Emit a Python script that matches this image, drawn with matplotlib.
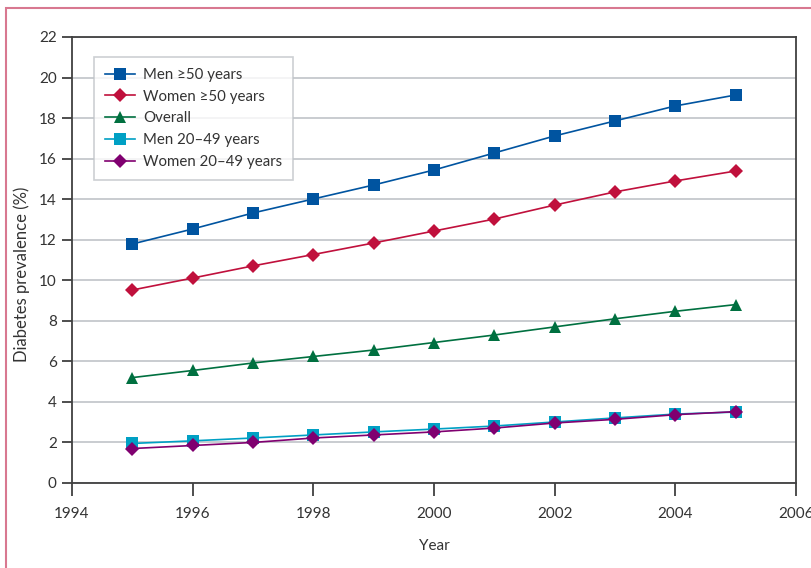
import matplotlib
matplotlib.use("Agg")
import matplotlib.pyplot as plt
from matplotlib.patches import Rectangle

plt.rcParams['font.family'] = ['Lato', 'DejaVu Sans']

years = [1995, 1996, 1997, 1998, 1999, 2000, 2001, 2002, 2003, 2004, 2005]
men_50 = [11.79, 12.53, 13.32, 14.01, 14.70, 15.44, 16.28, 17.12, 17.86, 18.60, 19.14]
women_50 = [9.52, 10.11, 10.71, 11.27, 11.84, 12.43, 13.02, 13.71, 14.36, 14.90, 15.39]
overall = [5.2, 5.55, 5.92, 6.24, 6.56, 6.93, 7.30, 7.70, 8.10, 8.47, 8.80]
men_20_49 = [1.95, 2.08, 2.22, 2.37, 2.52, 2.66, 2.81, 3.01, 3.21, 3.40, 3.50]
women_20_49 = [1.70, 1.85, 2.00, 2.22, 2.37, 2.52, 2.71, 2.96, 3.14, 3.37, 3.52]

labels = ["Men \u226550 years", "Women \u226550 years", "Overall",
          "Men 20\u201349 years", "Women 20\u201349 years"]
series = [men_50, women_50, overall, men_20_49, women_20_49]
colors = ["#0054a0", "#c0103c", "#007040", "#00a0c4", "#800070"]
markers = ["s", "D", "^", "s", "D"]
msizes = [8.5, 7.5, 8.5, 8.5, 7.5]

fig = plt.figure(figsize=(8.11, 5.68), dpi=100)
ax = fig.add_axes([72/811, 1 - 483/568, (796-72)/811, (483-37)/568])

for y, lab, c, m, ms in zip(series, labels, colors, markers, msizes):
    ax.plot(years, y, color=c, marker=m, markersize=ms, linewidth=1.2,
            label=lab, markeredgewidth=0)

ax.set_xlim(1994, 2006)
ax.set_ylim(0, 22)
ax.set_xticks(range(1994, 2007, 2))
ax.set_yticks(range(0, 23, 2))
ax.yaxis.grid(True, color="#c0c4c8", linewidth=1.2)
ax.set_axisbelow(True)
for s in ax.spines.values():
    s.set_color("#404040")
    s.set_linewidth(1.3)
ax.tick_params(axis='x', direction='out', length=9, width=1.3, color="#404040",
               labelsize=11, labelcolor="#333333", pad=8)
ax.tick_params(axis='y', direction='out', length=7, width=1.3, color="#404040",
               labelsize=11, labelcolor="#333333", pad=4)
ax.set_xlabel("Year", fontsize=11, color="#333333", labelpad=13)
ax.set_ylabel("Diabetes prevalence (%)", fontsize=12, color="#333333")
ax.yaxis.set_label_coords(-(72-30)/724, 1 - (274-37)/446)

leg = ax.legend(loc="upper left", bbox_to_anchor=(22/724, 1 - 20/446),
                fontsize=10.8, frameon=True, fancybox=False,
                handlelength=2.0, borderpad=0.72, labelspacing=0.52,
                handletextpad=0.55, borderaxespad=0)
leg.get_frame().set_edgecolor("#c0c4c8")
leg.get_frame().set_linewidth(1.2)
for t in leg.get_texts():
    t.set_color("#333333")

fig.patches.append(Rectangle((6/811, -0.1), 1.2, 1 - 8/568 + 0.1,
                             transform=fig.transFigure, fill=False,
                             edgecolor="#d87890", linewidth=1.5))

fig.savefig("out.png", dpi=100)
